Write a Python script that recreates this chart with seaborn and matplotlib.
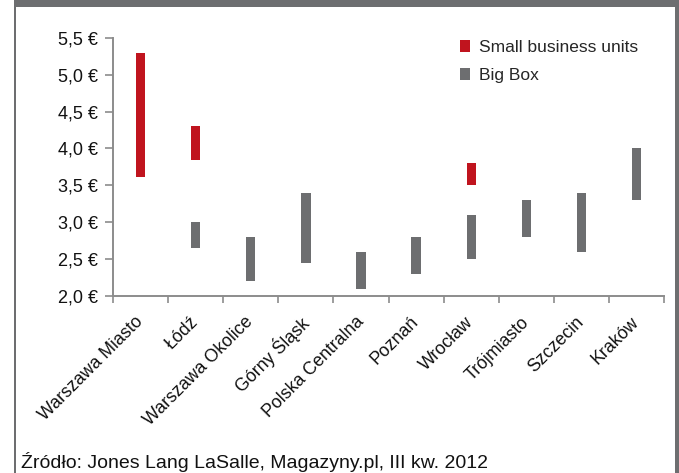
import numpy as np
import pandas as pd
import matplotlib
matplotlib.use("Agg")
import matplotlib.pyplot as plt
from matplotlib.patches import Patch, Rectangle
import seaborn as sns

categories = ["Warszawa Miasto", "Łódź", "Warszawa Okolice", "Górny Śląsk",
              "Polska Centralna", "Poznań", "Wrocław", "Trójmiasto", "Szczecin", "Kraków"]
small_cats = ["Warszawa Miasto", "Łódź", "Wrocław"]
small_low = [3.62, 3.85, 3.5]
small_high = [5.3, 4.3, 3.8]
big_cats = ["Łódź", "Warszawa Okolice", "Górny Śląsk", "Polska Centralna", "Poznań",
            "Wrocław", "Trójmiasto", "Szczecin", "Kraków"]
big_low = [2.65, 2.2, 2.45, 2.1, 2.3, 2.5, 2.8, 2.6, 3.3]
big_high = [3.0, 2.8, 3.4, 2.6, 2.8, 3.1, 3.3, 3.4, 4.0]
yticks = [2.0, 2.5, 3.0, 3.5, 4.0, 4.5, 5.0, 5.5]
ytick_labels = ["2,0 €", "2,5 €", "3,0 €", "3,5 €", "4,0 €", "4,5 €", "5,0 €", "5,5 €"]
series_names = ["Small business units", "Big Box"]
source_text = "Źródło: Jones Lang LaSalle, Magazyny.pl, III kw. 2012"

RED = "#c0141e"
GREY = "#6d6e70"
AXC = "#8c8c8c"

sns.set_style("white")
plt.rcParams["font.family"] = ["Liberation Sans", "DejaVu Sans"]

df_small = pd.DataFrame({"cat": small_cats, "low": small_low, "high": small_high})
df_small["span"] = df_small["high"] - df_small["low"]
df_big = pd.DataFrame({"cat": big_cats, "low": big_low, "high": big_high})
df_big["span"] = df_big["high"] - df_big["low"]
# sort frames in category order so bottoms line up with drawn bars
for d in (df_small, df_big):
    d["pos"] = d["cat"].map({c: i for i, c in enumerate(categories)})
    d.sort_values("pos", inplace=True)

fig = plt.figure(figsize=(6.79, 4.73), dpi=100)
ax = fig.add_axes([0.1664, 0.3742, 0.8116, 0.5458])

sns.barplot(data=df_big, x="cat", y="span", order=categories, color=GREY,
            bottom=df_big["low"].values, width=0.17, errorbar=None,
            saturation=1, ax=ax, linewidth=0)
sns.barplot(data=df_small, x="cat", y="span", order=categories, color=RED,
            bottom=df_small["low"].values, width=0.17, errorbar=None,
            saturation=1, ax=ax, linewidth=0)

ax.set_xlim(-0.5, len(categories) - 0.5)
ax.set_ylim(2.0, 5.5)
ax.set_yticks(yticks)
ax.set_yticklabels(ytick_labels, fontsize=13, color="#111111")
ax.set_xticks(range(len(categories)))
ax.set_xticklabels(categories, rotation=45, ha="right", va="center",
                   rotation_mode="anchor", fontsize=12.8, color="#111111")
ax.set_xticks(np.arange(-0.5, len(categories), 1), minor=True)
ax.tick_params(axis="x", which="major", length=0, pad=17)
ax.tick_params(axis="x", which="minor", length=5, width=1.2, color=AXC, direction="out", bottom=True)
ax.tick_params(axis="y", length=6, width=1.2, color=AXC, direction="out", left=True, pad=5)
ax.set_xlabel("")
ax.set_ylabel("")
for s in ["top", "right"]:
    ax.spines[s].set_visible(False)
for s in ["left", "bottom"]:
    ax.spines[s].set_color(AXC)
    ax.spines[s].set_linewidth(1.4)

handles = [Patch(facecolor=RED, edgecolor="none"), Patch(facecolor=GREY, edgecolor="none")]
ax.legend(handles, series_names, loc="upper left", bbox_to_anchor=(0.618, 1.02),
          frameon=False, fontsize=12.5, handlelength=0.55, handleheight=0.7,
          handletextpad=0.5, labelspacing=0.74, borderaxespad=0)

# frame: top banner, left and right borders
fig.patches.append(Rectangle((14 / 679, 1 - 7 / 473), 1, 7 / 473, transform=fig.transFigure,
                             facecolor=GREY, edgecolor="none"))
fig.patches.append(Rectangle((14 / 679, 0), 2 / 679, 1, transform=fig.transFigure,
                             facecolor=GREY, edgecolor="none"))
fig.patches.append(Rectangle((675 / 679, 0), 4 / 679, 1, transform=fig.transFigure,
                             facecolor=GREY, edgecolor="none"))

fig.text(21 / 679, 1 - 462 / 473, source_text, fontsize=14, va="center", ha="left", color="#111111")

fig.savefig("out.png", dpi=100)
